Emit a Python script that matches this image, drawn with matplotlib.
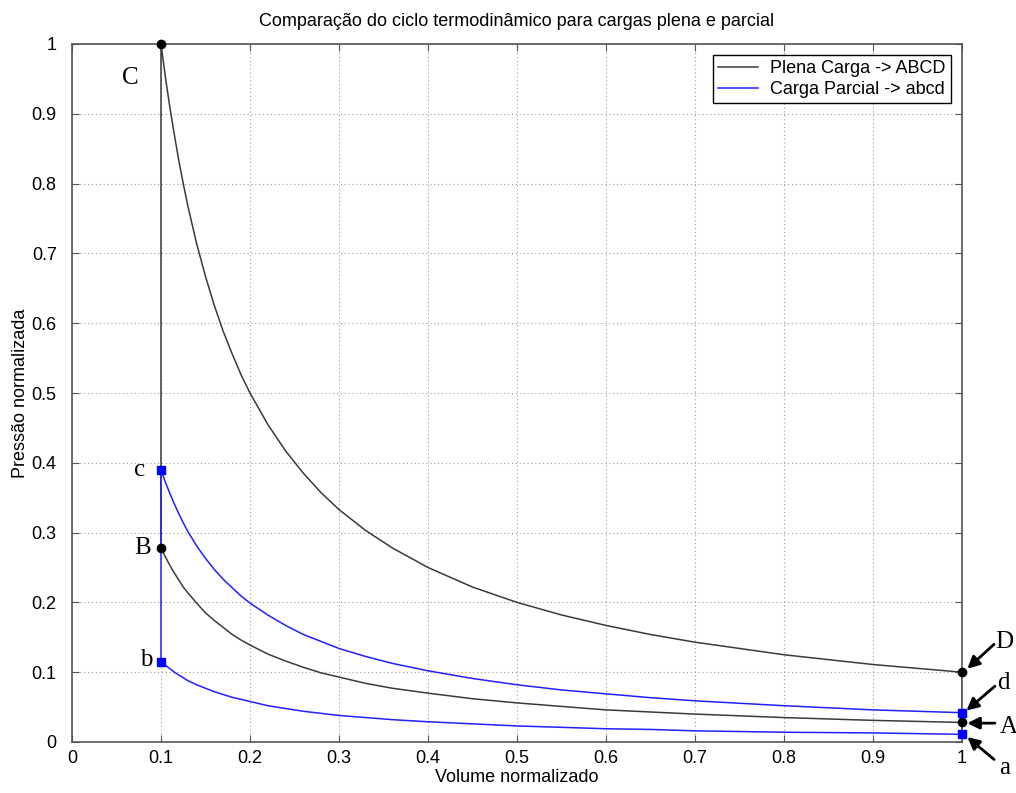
import numpy as np
import matplotlib.pyplot as plt

plt.close('all')
plt.rcParams['font.family'] = ['Liberation Sans', 'DejaVu Sans']

# volumes
v = [0.1, 0.105, 0.11, 0.115, 0.12, 0.125, 0.13, 0.14, 0.15, 0.16, 0.17,
     0.18, 0.19, 0.2, 0.22, 0.24, 0.26, 0.28, 0.3, 0.33, 0.36, 0.4, 0.45,
     0.5, 0.55, 0.6, 0.65, 0.7, 0.8, 0.9, 1.0]

# full load (ABCD)
p_CD = [1.0, 0.952, 0.909, 0.870, 0.833, 0.8, 0.769, 0.714, 0.667, 0.625,
        0.588, 0.556, 0.526, 0.5, 0.455, 0.417, 0.385, 0.357, 0.333, 0.303,
        0.278, 0.25, 0.222, 0.2, 0.182, 0.167, 0.154, 0.143, 0.125, 0.111,
        0.1]
p_BA = [0.278, 0.265, 0.253, 0.242, 0.232, 0.222, 0.214, 0.199, 0.185,
        0.174, 0.164, 0.154, 0.146, 0.139, 0.126, 0.116, 0.107, 0.099,
        0.093, 0.084, 0.077, 0.070, 0.062, 0.056, 0.051, 0.046, 0.043,
        0.040, 0.035, 0.031, 0.028]

# partial load (abcd)
p_cd = [0.39, 0.372, 0.356, 0.341, 0.327, 0.314, 0.302, 0.281, 0.263, 0.247,
        0.233, 0.221, 0.209, 0.199, 0.182, 0.167, 0.154, 0.144, 0.134,
        0.1225, 0.1126, 0.102, 0.091, 0.082, 0.0746, 0.069, 0.0635, 0.059,
        0.052, 0.046, 0.042]
p_ba = [0.115, 0.110, 0.105, 0.100, 0.096, 0.092, 0.088, 0.082, 0.077,
        0.072, 0.068, 0.064, 0.061, 0.058, 0.052, 0.048, 0.044, 0.041,
        0.038, 0.035, 0.032, 0.029, 0.026, 0.023, 0.021, 0.019, 0.018,
        0.016, 0.014, 0.013, 0.011]

# state points
full_v = [1.0, 0.1, 0.1, 1.0]
full_p = [0.028, 0.278, 1.0, 0.1]
part_v = [1.0, 0.1, 0.1, 1.0]
part_p = [0.011, 0.115, 0.39, 0.042]

fig = plt.figure(figsize=(10.16, 7.93), dpi=100)
ax = fig.add_axes([72/1016, 1-742/793, 890/1016, 698/793])

cyc_v = v[::-1] + v
cyc_v = cyc_v + [cyc_v[0]]
full_cyc = p_BA[::-1] + p_CD
full_cyc = full_cyc + [full_cyc[0]]
part_cyc = p_ba[::-1] + p_cd
part_cyc = part_cyc + [part_cyc[0]]

ax.plot(cyc_v, full_cyc, color='#3a3a3a', lw=1.1, label='Plena Carga -> ABCD')
ax.plot(cyc_v, part_cyc, color='#2020ff', lw=1.1, label='Carga Parcial -> abcd')
ax.plot(full_v, full_p, 'o', color='k', ms=6, zorder=5, clip_on=False)
ax.plot(part_v, part_p, 's', color='#0000ff', ms=5.5, zorder=5, clip_on=False)

ax.set_xlim(0, 1)
ax.set_ylim(0, 1)
ax.set_xticks(np.arange(0, 1.01, 0.1))
ax.set_yticks(np.arange(0, 1.01, 0.1))
ax.set_xticklabels(['0', '0.1', '0.2', '0.3', '0.4', '0.5', '0.6', '0.7', '0.8', '0.9', '1'])
ax.set_yticklabels(['0', '0.1', '0.2', '0.3', '0.4', '0.5', '0.6', '0.7', '0.8', '0.9', '1'])
ax.grid(True, color='#999999', linestyle=(0, (1, 2.5)), lw=0.8)
ax.tick_params(direction='in', length=5, labelsize=13, color='#555555')
ax.tick_params(axis='x', pad=6)
ax.tick_params(axis='y', pad=11)
ax.tick_params(top=True, right=True)
for s in ax.spines.values():
    s.set_color('#555555')
    s.set_linewidth(1.2)

ax.set_title('Comparação do ciclo termodinâmico para cargas plena e parcial', fontsize=13, pad=13)
ax.set_xlabel('Volume normalizado', fontsize=13, labelpad=1)
ax.set_ylabel('Pressão normalizada', fontsize=13, labelpad=2)

leg = ax.legend(loc='upper right', fontsize=13, fancybox=False, framealpha=1,
                edgecolor='k', borderaxespad=0.6, handlelength=2.2,
                handletextpad=0.7, borderpad=0.3, labelspacing=0.2)
leg.get_frame().set_linewidth(1.0)

# point labels
lab = dict(family=['Liberation Serif', 'DejaVu Serif'], fontsize=18, ha='center', va='center')
ax.text(0.065, 0.951, 'C', **lab)
ax.text(0.076, 0.39, 'c', **lab)
ax.text(0.079, 0.278, 'B', **lab)
ax.text(0.084, 0.117, 'b', **lab)
ax.text(1.048, 0.143, 'D', clip_on=False, **lab)
ax.text(1.047, 0.085, 'd', clip_on=False, **lab)
ax.text(1.052, 0.021, 'A', clip_on=False, **lab)
ax.text(1.048, -0.037, 'a', clip_on=False, **lab)

arr = dict(arrowstyle='-|>', color='k', lw=2, mutation_scale=18, shrinkA=0, shrinkB=0)
ax.annotate('', xy=(1.006, 0.105), xytext=(1.036, 0.140), arrowprops=arr, annotation_clip=False)
ax.annotate('', xy=(1.005, 0.045), xytext=(1.037, 0.080), arrowprops=arr, annotation_clip=False)
ax.annotate('', xy=(1.006, 0.027), xytext=(1.037, 0.027), arrowprops=arr, annotation_clip=False)
ax.annotate('', xy=(1.006, 0.007), xytext=(1.036, -0.025), arrowprops=arr, annotation_clip=False)

fig.savefig('out.png', dpi=100)
